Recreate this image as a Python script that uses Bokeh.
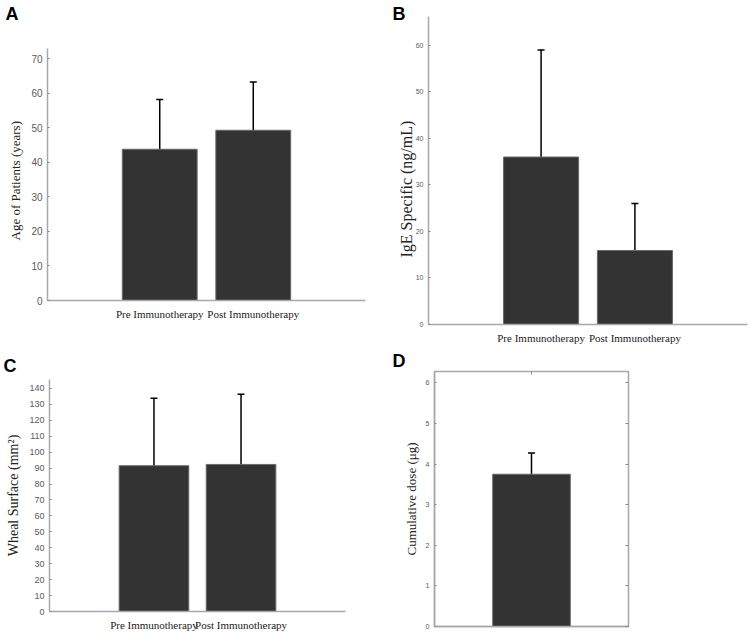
from bokeh.plotting import figure
from bokeh.layouts import column, row
from bokeh.models import (ColumnDataSource, Whisker, TeeHead, FixedTicker,
                          LinearAxis, Range1d, Title)
from bokeh.embed import file_html
from bokeh.resources import INLINE

# ---- data ----
groups = ["Pre Immunotherapy", "Post Immunotherapy"]
age_mean = [43.8, 49.3]
age_low = [29.5, 35.3]
age_high = [58.2, 63.3]

ige_mean = [36.0, 15.9]
ige_low = [13.0, 5.8]
ige_high = [59.0, 26.0]

wheal_mean = [91.5, 92.3]
wheal_low = [49.5, 49.0]
wheal_high = [133.8, 136.4]

dose_mean = [3.75]
dose_low = [3.23]
dose_high = [4.27]

BAR = "#333333"
AXC = "#a8a8a8"
TXT = "#5a5a5a"
SERIF = "Liberation Serif"
SANS = "Liberation Sans"


def panel(width, height, borders, xr, yr, ybounds, yticks, ylabel, ylabel_size,
          tick_size, means, lows, highs, letter, letter_offset, letter_standoff,
          letter_valign="bottom", ylabel_mode=("axis", 5), xlabels=True, boxed=False):
    left, right, top, bottom = borders
    p = figure(width=width, height=height, output_backend="svg",
               toolbar_location=None, x_range=Range1d(*xr), y_range=Range1d(*yr),
               min_border_left=left, min_border_right=right,
               min_border_top=top, min_border_bottom=bottom)
    p.frame_align = False
    p.grid.visible = False
    p.outline_line_color = AXC if boxed else None
    p.outline_line_width = 1.5

    # panel letter
    p.title.text = letter
    p.title.align = "left"
    p.title.vertical_align = letter_valign
    p.title.offset = letter_offset
    p.title.standoff = letter_standoff
    p.title.text_font = SANS
    p.title.text_font_style = "bold"
    p.title.text_font_size = "18px"
    p.title.text_color = "black"

    n = len(means)
    xs = list(range(1, n + 1))
    src = ColumnDataSource(dict(x=xs, top=means, lower=lows, upper=highs))
    p.vbar(x="x", top="top", width=0.8, source=src, fill_color=BAR,
           line_color="#6a6a6a", line_width=1)
    w = Whisker(base="x", lower="lower", upper="upper", source=src,
                line_color="black", line_width=1.5,
                upper_head=TeeHead(size=7, line_color="black", line_width=1.5),
                lower_head=TeeHead(size=7, line_color="black", line_width=1.5))
    p.add_layout(w)

    # y axis
    ya = p.yaxis[0]
    ya.ticker = FixedTicker(ticks=yticks)
    if ybounds is not None:
        ya.bounds = ybounds
    ya.axis_line_color = AXC
    ya.axis_line_width = 1.5
    ya.major_tick_in = 2
    ya.major_tick_out = 0
    ya.major_tick_line_color = "#888888"
    ya.minor_tick_line_color = None
    ya.major_label_text_font = SANS
    ya.major_label_text_font_size = tick_size
    ya.major_label_text_color = TXT
    ya.major_label_standoff = 5
    mode = ylabel_mode[0]
    if mode == "axis":
        ya.axis_label = ylabel
        ya.axis_label_text_font = SERIF
        ya.axis_label_text_font_style = "normal"
        ya.axis_label_text_font_size = ylabel_size
        ya.axis_label_text_color = "#222222"
        ya.axis_label_standoff = ylabel_mode[1]
    else:
        _, off, so = ylabel_mode
        t = Title(text=ylabel, align="left", offset=off, standoff=so,
                  vertical_align="bottom", text_font=SERIF, text_font_style="normal",
                  text_font_size=ylabel_size, text_color="#222222")
        p.add_layout(t, "left")

    # x axis
    xa = p.xaxis[0]
    xa.ticker = FixedTicker(ticks=xs if xlabels else [])
    xa.axis_line_color = AXC
    xa.axis_line_width = 1.5
    xa.major_tick_in = 0
    xa.major_tick_out = 0
    xa.minor_tick_line_color = None
    if xlabels:
        xa.major_label_overrides = {i + 1: g for i, g in enumerate(groups)}
        xa.major_label_text_font = SERIF
        xa.major_label_text_font_size = "11px"
        xa.major_label_text_color = "#222222"
        xa.major_label_standoff = 7
    else:
        xa.major_label_text_font_size = "0px"
        xa.major_label_text_color = None
        xa.major_label_standoff = 0

    if boxed:
        ra = LinearAxis(ticker=FixedTicker(ticks=yticks), major_label_text_font_size="0px",
                        major_label_text_color=None, axis_line_color=None,
                        major_label_standoff=0,
                        major_tick_in=3, major_tick_out=0, major_tick_line_color="#888888",
                        minor_tick_line_color=None)
        p.add_layout(ra, "right")
        ta = LinearAxis(ticker=FixedTicker(ticks=[1]), major_label_text_font_size="0px",
                        major_label_text_color=None, axis_line_color=None,
                        major_label_standoff=0,
                        major_tick_in=3, major_tick_out=0, major_tick_line_color="#888888",
                        minor_tick_line_color=None)
        p.add_layout(ta, "above")
    return p


# A: axis x 45..365, y 48..300 (frame extended up to 24) in a 380x350 canvas
pA = panel(380, 350, (45, 15, 24, 50), (-0.2, 3.2), (0, 79.93), (0, 73),
           [0, 10, 20, 30, 40, 50, 60, 70], "Age of Patients (years)", "13px",
           "10px", age_mean, age_low, age_high, "A", -42, 2,
           ylabel_mode=("title", 60, 11))

# B: frame x 48..367, y 16..324 in a 371x350 canvas
pB = panel(371, 350, (48, 4, 16, 26), (-0.2, 3.2), (0, 66.2), None,
           [0, 10, 20, 30, 40, 50, 60], "IgE Specific (ng/mL)", "16px",
           "7px", ige_mean, ige_low, ige_high, "B", -36, -14,
           ylabel_mode=("title", 67, -4))

# C: frame x 49..345, y 28..261 in a 380x287 canvas
pC = panel(380, 287, (49, 35, 28, 26), (-0.2, 3.2), (0, 145.6), None,
           list(range(0, 141, 10)), "Wheal Surface (mm²)", "14px",
           "9px", wheal_mean, wheal_low, wheal_high, "C", -46, 7,
           ylabel_mode=("axis", 5))

# D: boxed frame x 54..248, y 21..276 in a 371x287 canvas
pD = panel(371, 287, (54, 123, 21, 11), (0, 2), (0, 6.28), None,
           [0, 1, 2, 3, 4, 5, 6], "Cumulative dose (μg)", "13px",
           "7px", dose_mean, dose_low, dose_high, "D", -42, -2,
           letter_valign="top", ylabel_mode=("axis", 4),
           xlabels=False, boxed=True)

layout = column(row(pA, pB, spacing=0), row(pC, pD, spacing=0), spacing=0)

html = file_html(layout, INLINE, title="Immunotherapy")
html = html.replace("<body>", '<body style="margin:0">')
open("out.html", "w").write(html)
